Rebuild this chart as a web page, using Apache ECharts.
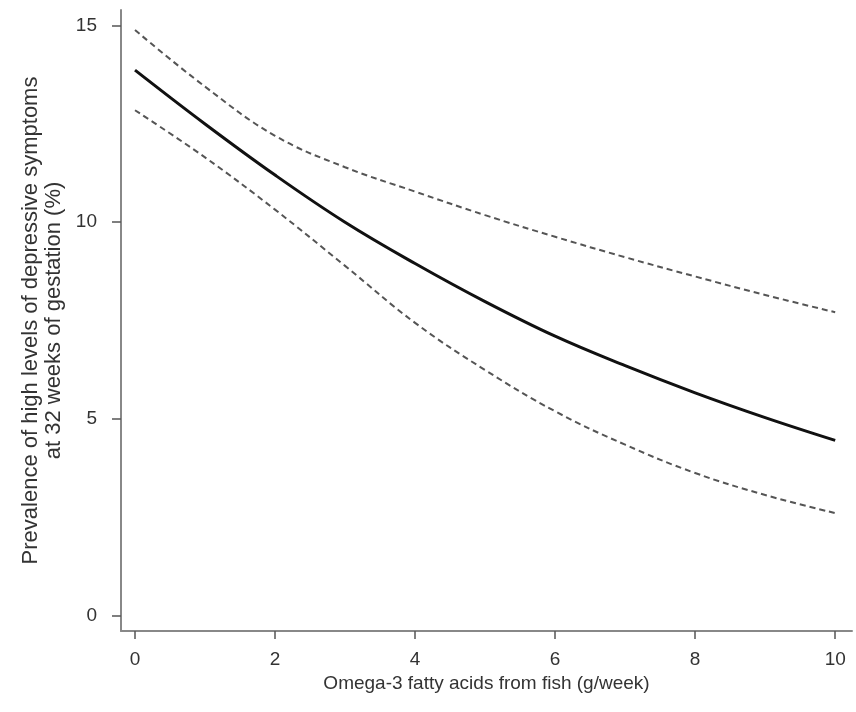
<!DOCTYPE html>
<html>
<head>
<meta charset="utf-8">
<script src="https://cdn.jsdelivr.net/npm/echarts@6/dist/echarts.min.js"></script>
<style>
  html, body { margin: 0; padding: 0; background: #fff; }
  #chart { width: 856px; height: 712px; }
</style>
</head>
<body>
<div id="chart"></div>
<script>
// omega-3 intake (g/week)
var fishOmega3 = [0, 1, 2, 3, 4, 5, 6, 7, 8, 9, 10];
// fitted prevalence (%) and 95% CI
var prevalence = [13.87, 12.5, 11.2, 10.0, 8.95, 7.98, 7.1, 6.35, 5.66, 5.03, 4.45];
var upperCI = [14.89, 13.45, 12.2, 11.4, 10.78, 10.18, 9.63, 9.11, 8.62, 8.15, 7.71];
var lowerCI = [12.85, 11.65, 10.32, 8.89, 7.44, 6.24, 5.19, 4.34, 3.62, 3.06, 2.6];
var xTicks = [0, 2, 4, 6, 8, 10];
var yTicks = [0, 5, 10, 15];

function pairs(ys) {
  return fishOmega3.map(function (x, i) { return [x, ys[i]]; });
}

var chart = echarts.init(document.getElementById('chart'));
var font = 'Liberation Sans, Arial, sans-serif';

var option = {
  backgroundColor: '#fff',
  animation: false,
  grid: {
    left: 121,
    right: 4,
    top: 10,
    bottom: 81,
    outerBoundsMode: 'none'
  },
  xAxis: {
    type: 'value',
    min: -0.2,
    max: 10.24,
    name: 'Omega-3 fatty acids from fish (g/week)',
    nameLocation: 'middle',
    nameGap: 38,
    nameTextStyle: { fontFamily: font, fontSize: 19, color: '#333' },
    axisLine: { show: true, onZero: false, lineStyle: { color: '#888', width: 2 } },
    axisTick: { show: true, customValues: xTicks, length: 8, lineStyle: { color: '#555', width: 1.5 } },
    axisLabel: { customValues: xTicks, margin: 19, fontFamily: font, fontSize: 19, color: '#333' },
    splitLine: { show: false }
  },
  yAxis: {
    type: 'value',
    min: -0.4,
    max: 15.4,
    name: 'Prevalence of high levels of depressive symptoms\nat 32 weeks of gestation (%)',
    nameLocation: 'middle',
    nameRotate: 90,
    nameGap: 54,
    nameTextStyle: { fontFamily: font, fontSize: 22, lineHeight: 23, color: '#333' },
    axisLine: { show: true, onZero: false, lineStyle: { color: '#888', width: 2 } },
    axisTick: { show: true, customValues: yTicks, length: 9, lineStyle: { color: '#555', width: 1.5 } },
    axisLabel: { customValues: yTicks, margin: 24, fontFamily: font, fontSize: 19, color: '#333' },
    splitLine: { show: false }
  },
  series: [
    {
      name: 'upper',
      type: 'line',
      data: pairs(upperCI),
      smooth: 0.4,
      showSymbol: false,
      lineStyle: { color: '#555', width: 2, type: [6, 4] }
    },
    {
      name: 'lower',
      type: 'line',
      data: pairs(lowerCI),
      smooth: 0.4,
      showSymbol: false,
      lineStyle: { color: '#555', width: 2, type: [6, 4] }
    },
    {
      name: 'prevalence',
      type: 'line',
      data: pairs(prevalence),
      smooth: 0.4,
      showSymbol: false,
      lineStyle: { color: '#111', width: 3 }
    }
  ]
};

chart.setOption(option);
</script>
</body>
</html>
